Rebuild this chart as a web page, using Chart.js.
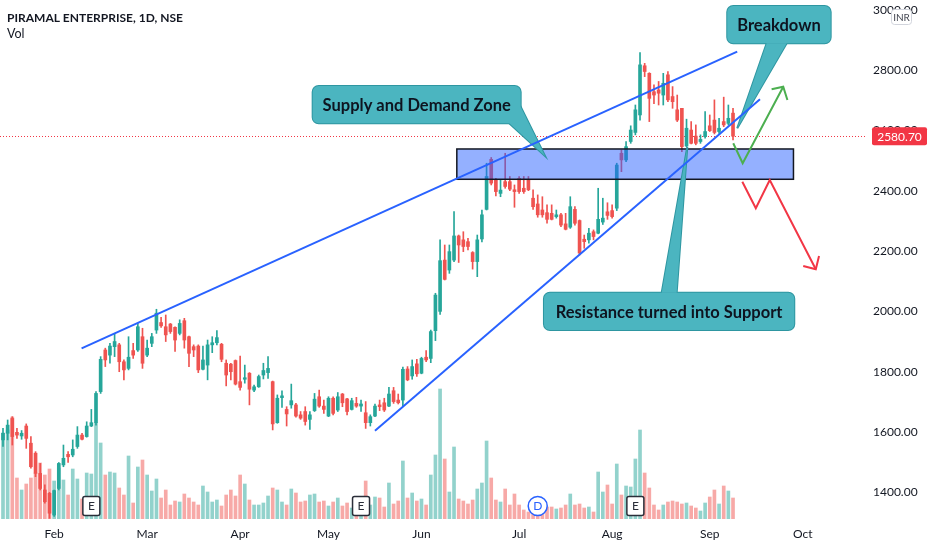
<!DOCTYPE html>
<html>
<head>
<meta charset="utf-8">
<title>PIRAMAL ENTERPRISE, 1D, NSE</title>
<script src="https://cdn.jsdelivr.net/npm/chart.js@4.4.1/dist/chart.umd.min.js"></script>
<style>
  html, body { margin: 0; padding: 0; background: #ffffff; }
  canvas { display: block; }
</style>
</head>
<body>
<canvas id="grafico" width="932" height="550"></canvas>
<script>
// daily candles, one entry per session (index 0 = mid January)
const open = [
  1574, 1596, 1645, 1599, 1587, 1620, 1563, 1530, 1463, 1408,
  1397, 1325, 1413, 1491, 1526, 1524, 1552, 1590, 1585, 1620,
  1631, 1734, 1872, 1855, 1883, 1889, 1833, 1811, 1870, 1872,
  1916, 1855, 1894, 1938, 1963, 1949, 1958, 1947, 1927, 1969,
  1916, 1883, 1885, 1808, 1822, 1889, 1896, 1891, 1828, 1825,
  1837, 1767, 1775, 1795, 1739, 1750, 1789, 1797, 1767, 1631,
  1714, 1675, 1690, 1690, 1657, 1668, 1642, 1671, 1717, 1686,
  1653, 1712, 1673, 1726, 1710, 1675, 1695, 1686, 1664, 1631,
  1653, 1690, 1697, 1686, 1737, 1706, 1706, 1809, 1786, 1826,
  1795, 1848, 1844, 1936, 2000, 2170, 2137, 2170, 2250, 2237,
  2231, 2195, 2165, 2240, 2338, 2504, 2436, 2391, 2430, 2430,
  2403, 2441, 2408, 2436, 2375, 2356, 2336, 2327, 2325, 2314,
  2320, 2290, 2279, 2338, 2301, 2239, 2237, 2264, 2259, 2296,
  2330, 2334, 2342, 2524, 2502, 2563, 2593, 2651, 2814, 2789,
  2728, 2734, 2717, 2784, 2712, 2668, 2673, 2548, 2601, 2581,
  2563, 2579, 2615, 2634, 2596, 2629, 2623, 2657
];
const high = [
  1612, 1640, 1651, 1612, 1605, 1627, 1585, 1535, 1496, 1425,
  1400, 1408, 1499, 1557, 1535, 1574, 1618, 1596, 1634, 1675,
  1734, 1850, 1878, 1894, 1927, 1894, 1839, 1916, 1894, 1960,
  1944, 1905, 1927, 2007, 1980, 1988, 1960, 1949, 1972, 1977,
  1918, 1889, 1889, 1885, 1905, 1916, 1936, 1894, 1839, 1828,
  1839, 1852, 1822, 1797, 1756, 1789, 1828, 1850, 1769, 1723,
  1737, 1684, 1759, 1695, 1668, 1684, 1668, 1728, 1739, 1706,
  1717, 1717, 1731, 1728, 1712, 1712, 1715, 1706, 1701, 1657,
  1693, 1706, 1712, 1748, 1748, 1726, 1815, 1817, 1839, 1841,
  1848, 1870, 1938, 2060, 2237, 2220, 2220, 2331, 2253, 2264,
  2242, 2198, 2253, 2336, 2491, 2510, 2441, 2436, 2524, 2447,
  2419, 2447, 2447, 2447, 2403, 2386, 2380, 2353, 2353, 2336,
  2325, 2325, 2380, 2347, 2303, 2253, 2275, 2270, 2408, 2375,
  2360, 2353, 2491, 2535, 2563, 2615, 2684, 2858, 2822, 2791,
  2751, 2762, 2789, 2795, 2745, 2717, 2673, 2637, 2629, 2618,
  2585, 2662, 2651, 2701, 2640, 2710, 2684, 2673
];
const low = [
  1552, 1574, 1557, 1579, 1576, 1546, 1480, 1452, 1408, 1364,
  1314, 1320, 1408, 1485, 1499, 1518, 1546, 1574, 1583, 1618,
  1623, 1728, 1817, 1828, 1850, 1800, 1773, 1806, 1844, 1867,
  1811, 1850, 1883, 1927, 1947, 1900, 1927, 1867, 1922, 1878,
  1817, 1850, 1797, 1806, 1773, 1863, 1889, 1833, 1753, 1773,
  1756, 1739, 1762, 1690, 1734, 1748, 1776, 1778, 1607, 1629,
  1682, 1620, 1679, 1649, 1642, 1623, 1609, 1668, 1682, 1662,
  1651, 1657, 1668, 1684, 1657, 1673, 1682, 1668, 1612, 1620,
  1651, 1671, 1668, 1684, 1695, 1693, 1684, 1770, 1775, 1784,
  1793, 1833, 1830, 1903, 1990, 2104, 2126, 2165, 2162, 2198,
  2204, 2140, 2115, 2230, 2336, 2419, 2383, 2380, 2408, 2400,
  2345, 2391, 2391, 2400, 2338, 2312, 2312, 2292, 2303, 2309,
  2281, 2270, 2275, 2286, 2187, 2209, 2226, 2237, 2257, 2288,
  2305, 2309, 2334, 2463, 2496, 2557, 2585, 2634, 2778, 2629,
  2688, 2684, 2684, 2695, 2673, 2629, 2529, 2546, 2555, 2552,
  2557, 2574, 2596, 2588, 2590, 2612, 2618, 2568
];
const close = [
  1596, 1623, 1585, 1590, 1596, 1579, 1485, 1463, 1413, 1369,
  1331, 1406, 1496, 1513, 1518, 1543, 1590, 1576, 1620, 1631,
  1728, 1841, 1839, 1885, 1900, 1833, 1806, 1848, 1855, 1949,
  1828, 1878, 1916, 1994, 1952, 1922, 1933, 1905, 1960, 1905,
  1861, 1872, 1806, 1839, 1889, 1896, 1913, 1841, 1789, 1800,
  1759, 1748, 1780, 1742, 1750, 1784, 1804, 1811, 1627, 1712,
  1720, 1660, 1704, 1653, 1646, 1635, 1657, 1709, 1686, 1675,
  1712, 1662, 1717, 1697, 1668, 1704, 1686, 1693, 1631, 1651,
  1686, 1684, 1673, 1726, 1701, 1697, 1808, 1773, 1817, 1793,
  1844, 1839, 1933, 2054, 2168, 2106, 2198, 2250, 2220, 2215,
  2215, 2165, 2237, 2320, 2447, 2425, 2397, 2402, 2414, 2405,
  2397, 2397, 2397, 2403, 2347, 2320, 2320, 2305, 2305, 2320,
  2286, 2272, 2347, 2292, 2193, 2231, 2259, 2248, 2305, 2309,
  2318, 2314, 2485, 2502, 2546, 2601, 2668, 2817, 2795, 2706,
  2717, 2723, 2756, 2701, 2695, 2634, 2546, 2607, 2557, 2557,
  2570, 2596, 2599, 2593, 2607, 2618, 2640, 2580.70
];
// volume, thousand shares
const volume = [
  2150, 2225, 2550, 1025, 725, 875, 1025, 1150, 1400, 1100,
  1250, 950, 1275, 975, 600, 1250, 1000, 500, 1150, 1125,
  2400, 1900, 1100, 1175, 1150, 775, 600, 1575, 400, 1300,
  1475, 1100, 700, 1000, 525, 725, 350, 450, 425, 625,
  525, 425, 350, 825, 675, 425, 475, 325, 600, 725,
  575, 1100, 875, 475, 350, 350, 400, 575, 775, 725,
  425, 350, 750, 650, 425, 450, 600, 625, 425, 450,
  325, 425, 525, 325, 400, 275, 225, 275, 950, 350,
  550, 525, 300, 900, 375, 450, 1450, 525, 650, 450,
  500, 350, 1100, 1600, 3250, 1500, 675, 1800, 500, 450,
  375, 475, 750, 900, 1950, 1025, 475, 425, 750, 350,
  625, 350, 225, 175, 175, 225, 325, 300, 300, 250,
  275, 350, 625, 350, 375, 275, 300, 175, 1175, 675,
  850, 375, 1375, 600, 825, 800, 1500, 2225, 1150, 775,
  350, 225, 350, 425, 450, 425, 375, 400, 325, 275,
  200, 400, 550, 725, 375, 825, 700, 525
];

const monthTicks = [11, 31, 51, 70, 90, 111, 131, 152, 172];
const monthLabels = ['Feb', 'Mar', 'Apr', 'May', 'Jun', 'Jul', 'Aug', 'Sep', 'Oct'];
const priceTicks = [1400, 1600, 1800, 2000, 2200, 2400, 2600, 2800, 3000];
const lastPrice = 2580.70;
const earningsAt = [19, 77, 136];
const dividendAt = [115];

// drawings, as [session index, price]
const upperTrend = [[16.9, 1877.6], [157.9, 2860.7]];
const lowerTrend = [[80.0, 1604.5], [162.8, 2703.0]];
const greenPath = [[157.05, 2557.1], [159.08, 2490.8], [167.8, 2744.7]];
const greenHead = [[165.3, 2736.1], [167.8, 2744.7], [168.7, 2700.6]];
const redPath = [[159.0, 2429.8], [161.9, 2341.7], [164.9, 2435.5], [174.8, 2139.5]];
const redHead = [[172.1, 2150.4], [174.8, 2139.5], [175.5, 2183.6]];
const zone = [97.6, 2538.2, 170.0, 2437.8];
const callouts = [
  { text: 'Supply and Demand Zone', box: [66.6, 2747.0, 111.33, 2623.4],
    pointer: [[108.9, 2623.4], [111.33, 2678.4], [116.56, 2515.0]] },
  { text: 'Breakdown', box: [155.76, 3012.2, 178.0, 2888.6],
    pointer: [[164.24, 2888.6], [168.54, 2888.6], [157.91, 2606.8]] },
  { text: 'Resistance turned into Support', box: [116.34, 2061.9, 170.17, 1938.3],
    pointer: [[141.66, 2061.9], [144.88, 2061.9], [147.16, 2545.0]] }
];

(() => {

    const FONT = 'Lato';
    const TEXT = '#131722';
    const index = close.map((_, i) => i);
    const rising = close.map((c, i) => c >= open[i]);
    const candleColor = rising.map(r => r ? '#26a69a' : '#ef5350');
    const volumeColor = rising.map(r => r ? 'rgba(38,166,154,0.5)' : 'rgba(239,83,80,0.5)');
    const drawingLabels = ['upper', 'lower', 'greenPath', 'greenHead', 'redPath', 'redHead'];
    let zoneDone = false;

    function lineSet(label, points, color, order) {
        return {
            type: 'line',
            label: label,
            yAxisID: 'y',
            data: points.map(([x, y]) => ({ x, y })),
            borderColor: color,
            borderWidth: 2,
            pointRadius: 0,
            fill: false,
            tension: 0,
            order: order
        };
    }

    function roundedRect(ctx, x, y, w, h, r) {
        ctx.beginPath();
        ctx.moveTo(x + r, y);
        ctx.arcTo(x + w, y, x + w, y + h, r);
        ctx.arcTo(x + w, y + h, x, y + h, r);
        ctx.arcTo(x, y + h, x, y, r);
        ctx.arcTo(x, y, x + w, y, r);
        ctx.closePath();
    }

    function drawZone(chart) {
        const { ctx, scales: { x, y } } = chart;
        const x1 = x.getPixelForValue(zone[0]);
        const y1 = y.getPixelForValue(zone[1]);
        const x2 = x.getPixelForValue(zone[2]);
        const y2 = y.getPixelForValue(zone[3]);
        ctx.save();
        ctx.fillStyle = 'rgba(41,98,255,0.5)';
        ctx.fillRect(x1, y1, x2 - x1, y2 - y1);
        ctx.strokeStyle = TEXT;
        ctx.lineWidth = 1.5;
        ctx.strokeRect(x1, y1, x2 - x1, y2 - y1);
        ctx.restore();
    }

    function drawCallout(chart, callout) {
        const { ctx, scales: { x, y } } = chart;
        const x1 = x.getPixelForValue(callout.box[0]);
        const y1 = y.getPixelForValue(callout.box[1]);
        const x2 = x.getPixelForValue(callout.box[2]);
        const y2 = y.getPixelForValue(callout.box[3]);
        const pointer = () => {
            ctx.beginPath();
            callout.pointer.forEach(([i, p], k) => {
                const px = x.getPixelForValue(i);
                const py = y.getPixelForValue(p);
                if (k === 0) ctx.moveTo(px, py); else ctx.lineTo(px, py);
            });
            ctx.closePath();
        };
        ctx.save();
        ctx.strokeStyle = '#2e96a1';
        ctx.fillStyle = '#4bb5c0';
        ctx.lineWidth = 2;
        pointer(); ctx.stroke();
        roundedRect(ctx, x1, y1, x2 - x1, y2 - y1, 6); ctx.stroke();
        pointer(); ctx.fill();
        roundedRect(ctx, x1, y1, x2 - x1, y2 - y1, 6); ctx.fill();
        ctx.fillStyle = '#0e1420';
        ctx.font = `bold 16.5px ${FONT}`;
        ctx.textAlign = 'center';
        ctx.textBaseline = 'middle';
        ctx.fillText(callout.text, (x1 + x2) / 2, (y1 + y2) / 2 + 1);
        ctx.restore();
    }

    function drawMarkers(chart) {
        const { ctx, chartArea, scales: { x } } = chart;
        const cy = chartArea.bottom - 13;
        ctx.save();
        ctx.textAlign = 'center';
        ctx.textBaseline = 'middle';
        ctx.font = `12px ${FONT}`;
        earningsAt.forEach(i => {
            const cx = x.getPixelForValue(i);
            roundedRect(ctx, cx - 8.5, cy - 9.5, 17, 19, 2);
            ctx.fillStyle = '#ffffff';
            ctx.fill();
            ctx.strokeStyle = '#2a2e39';
            ctx.lineWidth = 1.5;
            ctx.stroke();
            ctx.fillStyle = '#2a2e39';
            ctx.fillText('E', cx, cy + 0.5);
        });
        dividendAt.forEach(i => {
            const cx = x.getPixelForValue(i);
            ctx.beginPath();
            ctx.arc(cx, cy, 9.5, 0, Math.PI * 2);
            ctx.fillStyle = '#ffffff';
            ctx.fill();
            ctx.strokeStyle = '#2962ff';
            ctx.lineWidth = 1.5;
            ctx.stroke();
            ctx.fillStyle = '#2962ff';
            ctx.fillText('D', cx, cy + 0.5);
        });
        ctx.restore();
    }

    function drawTitle(chart) {
        const { ctx } = chart;
        ctx.save();
        ctx.fillStyle = TEXT;
        ctx.textBaseline = 'middle';
        ctx.textAlign = 'left';
        ctx.font = `bold 12px ${FONT}`;
        ctx.fillText('PIRAMAL ENTERPRISE, 1D, NSE', 7, 18);
        ctx.font = `12.5px ${FONT}`;
        ctx.fillText('Vol', 7, 34);
        ctx.restore();
    }

    function drawPriceTag(chart) {
        const { ctx, chartArea, scales: { y } } = chart;
        const py = y.getPixelForValue(lastPrice);
        ctx.save();
        roundedRect(ctx, chartArea.right + 6, py - 9, 55, 18, 2);
        ctx.fillStyle = '#f23645';
        ctx.fill();
        ctx.fillStyle = '#ffffff';
        ctx.font = `12px ${FONT}`;
        ctx.textAlign = 'center';
        ctx.textBaseline = 'middle';
        ctx.fillText(lastPrice.toFixed(2), chartArea.right + 33.5, py + 0.5);
        // currency badge over the top label
        roundedRect(ctx, chartArea.right + 25.5, 9.5, 20, 15, 3);
        ctx.fillStyle = '#ffffff';
        ctx.fill();
        ctx.strokeStyle = '#d1d4dc';
        ctx.lineWidth = 1;
        ctx.stroke();
        ctx.fillStyle = '#434651';
        ctx.font = `10px ${FONT}`;
        ctx.fillText('INR', chartArea.right + 35.5, 17.5);
        ctx.restore();
    }

    const overlay = {
        id: 'overlay',
        beforeDatasetsDraw(chart) {
            zoneDone = false;
            const { ctx, chartArea, scales: { y } } = chart;
            const py = Math.round(y.getPixelForValue(lastPrice)) + 0.5;
            ctx.save();
            ctx.strokeStyle = '#f23645';
            ctx.lineWidth = 1;
            ctx.setLineDash([1, 2]);
            ctx.beginPath();
            ctx.moveTo(chartArea.left, py);
            ctx.lineTo(chartArea.right, py);
            ctx.stroke();
            ctx.restore();
        },
        beforeDatasetDraw(chart, args) {
            const label = chart.data.datasets[args.index].label;
            if (zoneDone || !drawingLabels.includes(label)) return;
            zoneDone = true;
            drawZone(chart);
            callouts.forEach(c => drawCallout(chart, c));
        },
        afterDatasetsDraw(chart) {
            drawMarkers(chart);
            drawTitle(chart);
        },
        afterDraw(chart) {
            drawPriceTag(chart);
        }
    };

    const datasets = [
        {
            type: 'bar',
            label: 'volume',
            yAxisID: 'yv',
            data: index.map(i => ({ x: i, y: volume[i] })),
            backgroundColor: volumeColor,
            barThickness: 3,
            grouped: false,
            order: 5
        },
        {
            type: 'bar',
            label: 'wick',
            yAxisID: 'y',
            data: index.map(i => ({ x: i, y: [low[i], high[i]] })),
            backgroundColor: candleColor,
            barThickness: 1,
            minBarLength: 1,
            grouped: false,
            order: 4
        },
        {
            type: 'bar',
            label: 'body',
            yAxisID: 'y',
            data: index.map(i => ({ x: i, y: [Math.min(open[i], close[i]), Math.max(open[i], close[i])] })),
            backgroundColor: candleColor,
            barThickness: 3,
            minBarLength: 1,
            grouped: false,
            order: 3
        },
        lineSet('upper', upperTrend, '#2962ff', 2),
        lineSet('lower', lowerTrend, '#2962ff', 2),
        lineSet('greenPath', greenPath, '#4caf50', 1),
        lineSet('greenHead', greenHead, '#4caf50', 1),
        lineSet('redPath', redPath, '#f23645', 1),
        lineSet('redHead', redHead, '#f23645', 1)
    ];

    new Chart(document.getElementById('grafico'), {
        type: 'bar',
        data: { datasets: datasets },
        options: {
            responsive: false,
            animation: false,
            events: [],
            layout: { padding: 0 },
            plugins: {
                legend: { display: false },
                tooltip: { enabled: false }
            },
            scales: {
                x: {
                    type: 'linear',
                    min: -0.645,
                    max: 185.6,
                    offset: false,
                    grid: { display: false, drawTicks: false },
                    border: { display: false },
                    afterBuildTicks: s => { s.ticks = monthTicks.map(v => ({ value: v })); },
                    afterFit: s => { s.height = 31; s.paddingLeft = 0; s.paddingRight = 0; },
                    ticks: {
                        autoSkip: false,
                        maxRotation: 0,
                        padding: 8,
                        color: TEXT,
                        font: { family: FONT, size: 12 },
                        callback: (v, i) => monthLabels[i]
                    }
                },
                y: {
                    type: 'linear',
                    position: 'right',
                    min: 1311.8,
                    max: 3032,
                    beginAtZero: false,
                    grid: { display: false, drawTicks: false },
                    border: { display: false },
                    afterBuildTicks: s => { s.ticks = priceTicks.map(v => ({ value: v })); },
                    afterFit: s => { s.width = 66; s.paddingTop = 0; s.paddingBottom = 0; },
                    ticks: {
                        padding: 7,
                        autoSkip: false,
                        color: TEXT,
                        font: { family: FONT, size: 12 },
                        callback: v => v.toFixed(2)
                    }
                },
                yv: {
                    type: 'linear',
                    display: false,
                    min: 0,
                    max: 12975
                }
            }
        },
        plugins: [overlay]
    });

})();
</script>
</body>
</html>
